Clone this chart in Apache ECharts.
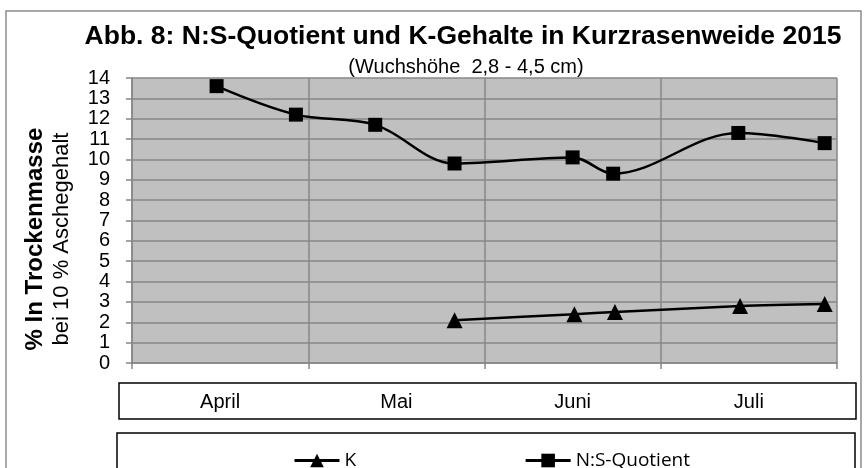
<!DOCTYPE html>
<html>
<head>
<meta charset="utf-8">
<title>Abb. 8</title>
<style>
  html, body { margin: 0; padding: 0; background: #fff; }
  #main { width: 864px; height: 468px; }
</style>
</head>
<body>
<div id="main"></div>
<script src="https://cdn.jsdelivr.net/npm/echarts@6/dist/echarts.min.js"></script>
<script>
// Monate (Kategorien unter der Achse)
var months = ['April', 'Mai', 'Juni', 'Juli'];

// Position der Probenahme in Monaten ab Anfang April
var nsPos = [0.48, 0.93, 1.38, 1.83, 2.50, 2.73, 3.44, 3.93];
var nsVals = [13.6, 12.2, 11.7, 9.8, 10.1, 9.3, 11.3, 10.8];

var kPos = [1.83, 2.51, 2.74, 3.45, 3.93];
var kVals = [2.1, 2.4, 2.5, 2.8, 2.9];

var yTicks = [0, 14, 1];  // min, max, interval

function pairs(xs, ys) {
    var out = [];
    for (var i = 0; i < xs.length; i++) out.push([xs[i], ys[i]]);
    return out;
}

var chart = echarts.init(document.getElementById('main'));
var font = 'Liberation Sans, Arial, sans-serif';
var gridGray = '#878787';

var option = {
    animation: false,
    textStyle: { fontFamily: font, color: '#000' },
    title: [{
        text: 'Abb. 8: N:S-Quotient und K-Gehalte in Kurzrasenweide 2015',
        left: 458, top: 18, textAlign: 'center',
        textStyle: { fontFamily: font, fontWeight: 'bold', fontSize: 26.5, color: '#000' }
    }, {
        text: '(Wuchshöhe  2,8 - 4,5 cm)',
        left: 461, top: 52, textAlign: 'center',
        textStyle: { fontFamily: font, fontWeight: 'normal', fontSize: 20, color: '#000' }
    }],
    grid: {
        left: 132, top: 78, right: 27, bottom: 105,
        show: true, backgroundColor: '#c0c0c0', borderWidth: 0
    },
    legend: {
        left: 288, top: 446,
        itemWidth: 45, itemHeight: 17, itemGap: 168,
        data: ['K', 'N:S-Quotient'],
        lineStyle: { width: 3 },
        textStyle: { fontFamily: 'Open Sans', fontSize: 19, color: '#000' }
    },
    xAxis: [{
        type: 'value', min: 0, max: 4, interval: 1,
        axisLine: { show: true, lineStyle: { color: gridGray, width: 1.5 } },
        axisTick: { show: true, length: 6, lineStyle: { color: gridGray, width: 1.5 } },
        axisLabel: { show: false },
        splitLine: { show: true, lineStyle: { color: gridGray, width: 1.5 } }
    }, {
        type: 'category', position: 'bottom', data: months, boundaryGap: true,
        axisLine: { show: false }, axisTick: { show: false }, splitLine: { show: false },
        axisLabel: { margin: 29, fontSize: 20, color: '#000', fontFamily: font }
    }],
    yAxis: {
        type: 'value', min: yTicks[0], max: yTicks[1], interval: yTicks[2],
        axisLine: { show: true, lineStyle: { color: gridGray, width: 1.5 } },
        axisTick: { show: true, length: 6, lineStyle: { color: gridGray, width: 1.5 } },
        axisLabel: { margin: 22, fontSize: 20, color: '#000', fontFamily: font },
        splitLine: { show: true, lineStyle: { color: gridGray, width: 1.5 } }
    },
    series: [{
        name: 'K', type: 'line', xAxisIndex: 0,
        data: pairs(kPos, kVals),
        smooth: 0.3,
        symbol: 'triangle', symbolSize: 16,
        lineStyle: { color: '#000', width: 2.5 },
        itemStyle: { color: '#000' }
    }, {
        name: 'N:S-Quotient', type: 'line', xAxisIndex: 0,
        data: pairs(nsPos, nsVals),
        smooth: 0.35,
        symbol: 'rect', symbolSize: 14,
        lineStyle: { color: '#000', width: 2.5 },
        itemStyle: { color: '#000' }
    }],
    graphic: [{
        type: 'rect', silent: true, z: -10,
        shape: { x: 6, y: 11, width: 855, height: 470 },
        style: { fill: null, stroke: '#8c8c8c', lineWidth: 1.5 }
    }, {
        type: 'rect', silent: true,
        shape: { x: 119, y: 383, width: 737, height: 36 },
        style: { fill: null, stroke: '#000', lineWidth: 1.5 }
    }, {
        type: 'rect', silent: true,
        shape: { x: 117, y: 433, width: 738, height: 40 },
        style: { fill: null, stroke: '#000', lineWidth: 1.5 }
    }, {
        // Achsentitel, zwei Zeilen gedreht
        type: 'text', silent: true, x: 35, y: 239, rotation: Math.PI / 2,
        style: {
            text: '% In Trockenmasse', fill: '#000',
            font: 'bold 24px ' + font, align: 'center', verticalAlign: 'middle'
        }
    }, {
        type: 'text', silent: true, x: 62, y: 239, rotation: Math.PI / 2,
        style: {
            text: 'bei 10 % Aschegehalt', fill: '#000',
            font: '22px ' + font, align: 'center', verticalAlign: 'middle'
        }
    }]
};

chart.setOption(option);
</script>
</body>
</html>
